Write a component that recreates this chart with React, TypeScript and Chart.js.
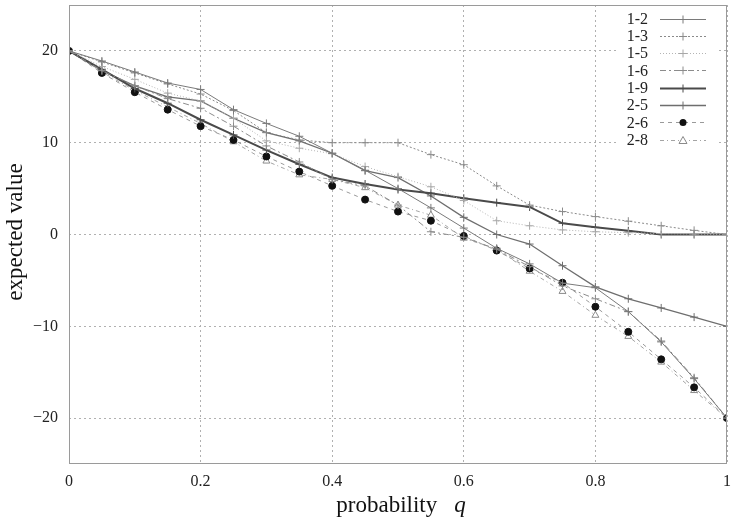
import { useEffect, useRef } from "react";
import { Chart, registerables } from "chart.js";

Chart.register(...registerables);

// probability q at which each strategy pair was evaluated
const qValues = [0, 0.05, 0.1, 0.15, 0.2, 0.25, 0.3, 0.35, 0.4, 0.45, 0.5, 0.55, 0.6, 0.65, 0.7, 0.75, 0.8, 0.85, 0.9, 0.95, 1];

// expected value per pair
const s12 = [20, 18.9, 17.7, 16.5, 15.8, 13.6, 12.1, 10.7, 8.85, 7.0, 5.0, 2.9, 0.7, -1.5, -3.2, -5.3, -5.8, -8.4, -11.7, -15.7, -20];
const s13 = [20, 18.8, 17.6, 16.4, 15.3, 13.5, 11.1, 10.3, 10.0, 10.0, 10.0, 8.7, 7.6, 5.3, 3.2, 2.5, 1.95, 1.45, 0.95, 0.45, 0];
const s15 = [20, 18.3, 16.9, 15.4, 14.55, 12.66, 10.2, 9.4, 8.8, 7.4, 6.3, 5.2, 3.7, 1.5, 0.95, 0.5, 0.3, 0.2, 0.1, 0.05, 0];
const s16 = [20, 17.85, 16.2, 14.8, 13.75, 11.8, 9.65, 7.9, 6.0, 5.3, 3.2, 0.3, -0.3, -1.6, -3.5, -5.6, -7.0, -8.4, -11.6, -15.6, -20];
const s19 = [20, 18.0, 15.9, 14.3, 12.5, 10.85, 9.2, 7.65, 6.2, 5.5, 4.9, 4.5, 3.95, 3.47, 3.0, 1.22, 0.78, 0.4, 0, 0, 0];
const s25 = [20, 17.85, 16.2, 15.0, 14.55, 12.66, 11.1, 10.2, 8.85, 6.95, 6.2, 4.2, 1.87, 0, -1.04, -3.4, -5.7, -7.0, -8.0, -9.0, -10];
const s26 = [20, 17.6, 15.5, 13.6, 11.8, 10.3, 8.5, 6.85, 5.3, 3.8, 2.5, 1.5, -0.16, -1.75, -3.7, -5.25, -7.87, -10.6, -13.6, -16.65, -20];
const s28 = [20, 17.7, 15.7, 13.9, 12.1, 10.1, 8.0, 6.5, 6.0, 5.1, 3.2, 2.1, -0.4, -1.6, -4.0, -6.2, -8.8, -11.1, -13.9, -17.0, -20];

const seriesLabels = ["1-2", "1-3", "1-5", "1-6", "1-9", "2-5", "2-6", "2-8"];
const seriesValues = [s12, s13, s15, s16, s19, s25, s26, s28];

const xTicks = [0, 0.2, 0.4, 0.6, 0.8, 1];
const yTicks = [-20, -10, 0, 10, 20];

const xTitle = "probability";
const xTitleVar = "q";
const yTitle = "expected value";

const FONT = "'Liberation Serif', 'DejaVu Serif', serif";

type Style = {
  color: string;
  width: number;
  dash: number[];
  marker: "cross" | "dot" | "triangle";
  markerColor: string;
};

const styles: Style[] = [
  { color: "#7a7a7a", width: 1, dash: [], marker: "cross", markerColor: "#7a7a7a" },
  { color: "#8a8a8a", width: 1, dash: [2, 2], marker: "cross", markerColor: "#8a8a8a" },
  { color: "#b4b4b4", width: 1, dash: [1, 2], marker: "cross", markerColor: "#a8a8a8" },
  { color: "#8c8c8c", width: 1, dash: [6, 3, 2, 3], marker: "cross", markerColor: "#8c8c8c" },
  { color: "#4a4a4a", width: 2, dash: [], marker: "cross", markerColor: "#4a4a4a" },
  { color: "#6e6e6e", width: 1.3, dash: [], marker: "cross", markerColor: "#6e6e6e" },
  { color: "#9a9a9a", width: 1, dash: [4, 4], marker: "dot", markerColor: "#111111" },
  { color: "#a4a4a4", width: 1, dash: [4, 3, 1, 3], marker: "triangle", markerColor: "#8a8a8a" },
];

function drawMarker(ctx: CanvasRenderingContext2D, st: Style, x: number, y: number) {
  ctx.save();
  ctx.setLineDash([]);
  ctx.strokeStyle = st.markerColor;
  ctx.fillStyle = st.markerColor;
  ctx.lineWidth = 1;
  if (st.marker === "cross") {
    ctx.beginPath();
    ctx.moveTo(x - 4, y);
    ctx.lineTo(x + 4, y);
    ctx.moveTo(x, y - 4);
    ctx.lineTo(x, y + 4);
    ctx.stroke();
  } else if (st.marker === "dot") {
    ctx.beginPath();
    ctx.arc(x, y, 3.5, 0, Math.PI * 2);
    ctx.fill();
  } else {
    ctx.fillStyle = "#ffffff";
    ctx.beginPath();
    ctx.moveTo(x, y - 4);
    ctx.lineTo(x + 4, y + 3);
    ctx.lineTo(x - 4, y + 3);
    ctx.closePath();
    ctx.fill();
    ctx.stroke();
  }
  ctx.restore();
}

const legendBox = { left: 618, right: 716, top: 6, bottom: 150 };

const decorPlugin = {
  id: "decor",
  beforeDatasetsDraw(chart: Chart) {
    const ctx = chart.ctx;
    ctx.save();
    ctx.fillStyle = "#ffffff";
    ctx.fillRect(legendBox.left, legendBox.top, legendBox.right - legendBox.left, legendBox.bottom - legendBox.top);
    ctx.restore();
  },
  afterDraw(chart: Chart) {
    const ctx = chart.ctx;
    const a = chart.chartArea;
    ctx.save();
    // plot frame
    ctx.strokeStyle = "#9a9a9a";
    ctx.lineWidth = 1;
    ctx.setLineDash([]);
    ctx.strokeRect(Math.round(a.left) + 0.5, Math.round(a.top) + 0.5, Math.round(a.right - a.left) - 1, Math.round(a.bottom - a.top) - 1);

    // key
    ctx.font = `16px ${FONT}`;
    ctx.fillStyle = "#222";
    ctx.textAlign = "right";
    ctx.textBaseline = "middle";
    seriesLabels.forEach((lab, i) => {
      const y = 18.5 + i * 17.3;
      const st = styles[i];
      ctx.fillText(lab, 648, y + 1);
      ctx.save();
      ctx.strokeStyle = st.color;
      ctx.lineWidth = st.width;
      ctx.setLineDash(st.dash);
      ctx.beginPath();
      ctx.moveTo(660, Math.round(y) + 0.5);
      ctx.lineTo(706, Math.round(y) + 0.5);
      ctx.stroke();
      ctx.restore();
      drawMarker(ctx, st, 683, Math.round(y) + 0.5);
    });

    // axis titles
    ctx.fillStyle = "#111";
    ctx.font = `23px ${FONT}`;
    ctx.textAlign = "center";
    ctx.textBaseline = "middle";
    ctx.save();
    ctx.translate(16, 232);
    ctx.rotate(-Math.PI / 2);
    ctx.fillText(yTitle, 0, 0);
    ctx.restore();

    ctx.textAlign = "left";
    ctx.textBaseline = "alphabetic";
    const w1 = ctx.measureText(xTitle).width;
    ctx.font = `italic 23px ${FONT}`;
    const w2 = ctx.measureText(xTitleVar).width;
    const gap = 17;
    const start = 401 - (w1 + gap + w2) / 2;
    ctx.font = `23px ${FONT}`;
    ctx.fillText(xTitle, start, 512);
    ctx.font = `italic 23px ${FONT}`;
    ctx.fillText(xTitleVar, start + w1 + gap, 512);
    ctx.restore();
  },
};

export default function App() {
  const canvasRef = useRef<HTMLCanvasElement | null>(null);

  useEffect(() => {
    const canvas = canvasRef.current;
    if (!canvas) return;

    const datasets = seriesValues.map((vals, i) => {
      const st = styles[i];
      return {
        label: seriesLabels[i],
        data: qValues.map((q, j) => ({ x: q, y: vals[j] })),
        borderColor: st.color,
        borderWidth: st.width,
        borderDash: st.dash,
        pointStyle: st.marker === "cross" ? "cross" : st.marker === "dot" ? "circle" : "triangle",
        pointRadius: st.marker === "cross" ? 4 : st.marker === "dot" ? 3.5 : 4,
        pointBorderWidth: 1,
        pointBorderColor: st.markerColor,
        pointBackgroundColor: st.marker === "dot" ? st.markerColor : "#ffffff",
        fill: false,
        tension: 0,
      };
    });

    const chart = new Chart(canvas, {
      type: "line",
      data: { datasets: datasets as any },
      options: {
        responsive: false,
        animation: false,
        devicePixelRatio: 1,
        layout: { padding: { top: 5, right: 8, left: 0, bottom: 0 } },
        plugins: {
          legend: { display: false },
          tooltip: { enabled: false },
        },
        scales: {
          x: {
            type: "linear",
            min: 0,
            max: 1,
            afterBuildTicks: (scale: any) => {
              scale.ticks = xTicks.map((v) => ({ value: v }));
            },
            afterFit: (scale: any) => {
              scale.height = 57;
              scale.paddingLeft = 0;
              scale.paddingRight = 0;
            },
            grid: { color: "#b0b0b0", lineWidth: 1, drawTicks: false },
            border: { display: false, dash: [2, 3] },
            ticks: {
              padding: 8,
              color: "#222",
              font: { family: FONT, size: 16 },
              maxRotation: 0,
              callback: (v: any) => String(v),
            },
          },
          y: {
            type: "linear",
            min: -25,
            max: 25,
            afterBuildTicks: (scale: any) => {
              scale.ticks = yTicks.map((v) => ({ value: v }));
            },
            afterFit: (scale: any) => {
              scale.width = 69;
              scale.paddingTop = 0;
              scale.paddingBottom = 0;
            },
            grid: { color: "#b0b0b0", lineWidth: 1, drawTicks: false },
            border: { display: false, dash: [2, 3] },
            ticks: {
              padding: 11,
              color: "#222",
              font: { family: FONT, size: 16 },
              callback: (v: any) => (Number(v) < 0 ? "\u2212" + Math.abs(Number(v)) : String(v)),
            },
          },
        },
      },
      plugins: [decorPlugin as any],
    });

    return () => chart.destroy();
  }, []);

  return (
    <div style={{ position: "absolute", left: 0, top: 0, width: 735, height: 521, background: "#fff" }}>
      <canvas ref={canvasRef} width={735} height={521} style={{ display: "block" }} />
    </div>
  );
}
